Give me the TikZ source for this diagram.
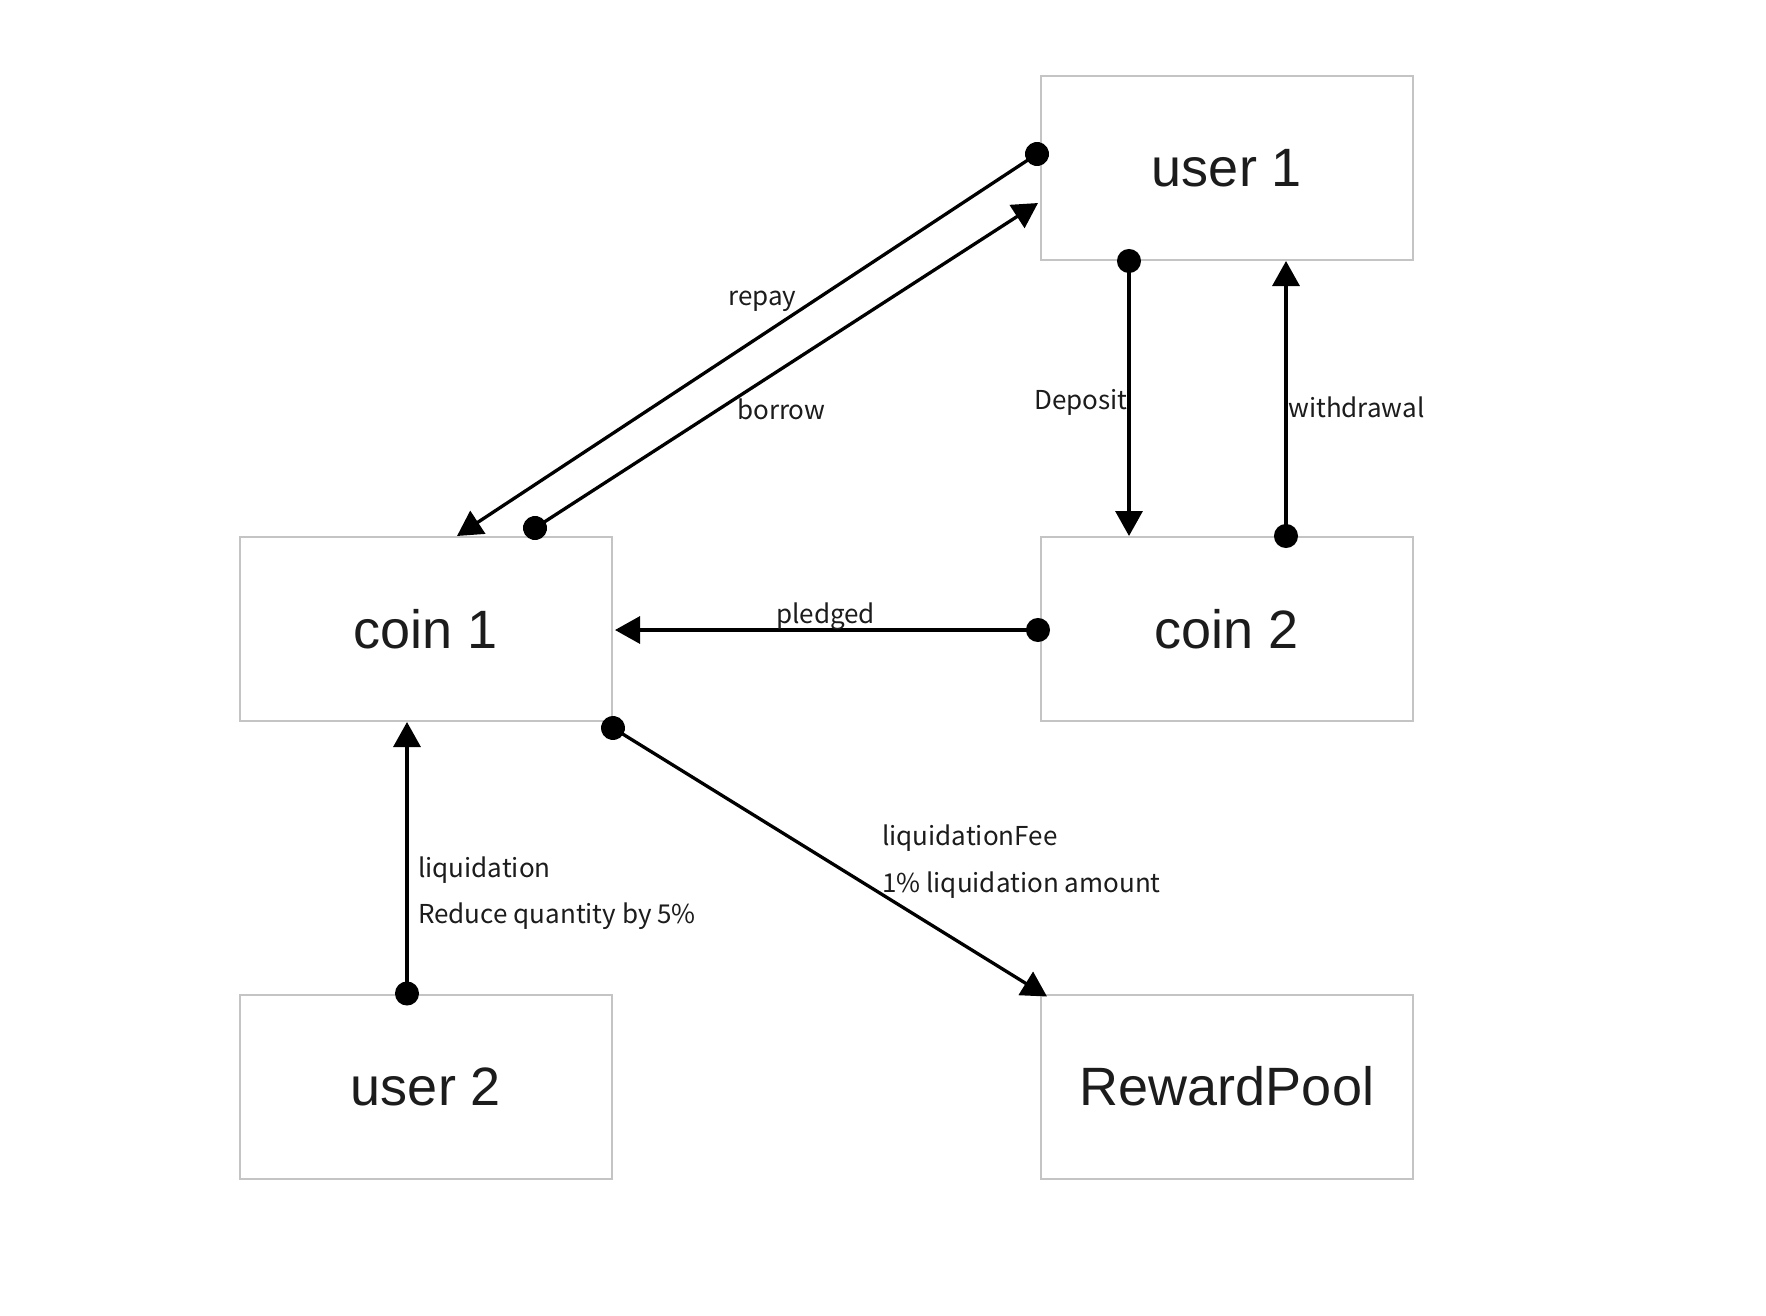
\documentclass[tikz,border=0pt]{standalone}
\usepackage{fontspec}
\setmainfont{Liberation Sans}
\newfontfamily\labfont{Noto Sans CJK SC}
\usetikzlibrary{arrows.meta}
\definecolor{boxline}{HTML}{C4C4C4}
\definecolor{txt}{HTML}{1C1C1C}
\tikzset{
  box/.style={draw=boxline, line width=2pt, minimum width=372pt, minimum height=184pt,
    inner sep=0pt, font=\fontsize{54}{60}\selectfont, text=txt},
  conn/.style={line width=3.3pt, draw=black,
    {Circle[length=24pt]}-{Triangle[length=25pt,width=27pt]}, shorten <=-12pt},
  lab/.style={anchor=base west, inner sep=0pt, font=\labfont\fontsize{26}{30}\selectfont, text=txt}
}
\begin{document}
\begin{tikzpicture}[x=1pt,y=-1pt]
\useasboundingbox[fill=white] (0,0) rectangle (1766,1316);
\node[box] (user1) at (1227,168) {user 1};
\node[box] (coin1) at (426,629) {coin 1};
\node[box] (coin2) at (1227,629) {coin 2};
\node[box] (user2) at (426,1086.5) {user 2};
\node[box] (pool) at (1227,1086.5) {RewardPool};

\draw[conn] ([xshift=-3pt,yshift=14pt]user1.west) -- ([xshift=31pt]coin1.north);
\draw[conn] ([xshift=109pt,yshift=8pt]coin1.north) -- ([xshift=-2pt,yshift=-35pt]user1.west);
\draw[conn] ([xshift=-98pt]user1.south) -- ([xshift=-98pt]coin2.north);
\draw[conn] ([xshift=59pt]coin2.north) -- ([xshift=59pt]user1.south);
\draw[conn] ([xshift=-2pt,yshift=-1pt]coin2.west) -- ([xshift=2pt,yshift=-1pt]coin1.east);
\draw[conn] ([yshift=-6pt]coin1.south east) -- ([xshift=7pt,yshift=-3pt]pool.north west);
\draw[conn] ([xshift=-19pt]user2.north) -- ([xshift=-19pt]coin1.south);

\node[lab] (repay) at (728,305) {repay};
\node[lab] (borrow) at (737,419) {borrow};
\node[lab] (deposit) at (1034,409) {Deposit};
\node[lab] (withdrawal) at (1288,417) {withdrawal};
\node[lab] (pledged) at (776,623) {pledged};
\node[lab] (liq1) at (418,877) {liquidation};
\node[lab] (liq2) at (418,923) {Reduce quantity by 5\%};
\node[lab] (fee1) at (882,845) {liquidationFee};
\node[lab] (fee2) at (882,892) {1\% liquidation amount};
\end{tikzpicture}
\end{document}
